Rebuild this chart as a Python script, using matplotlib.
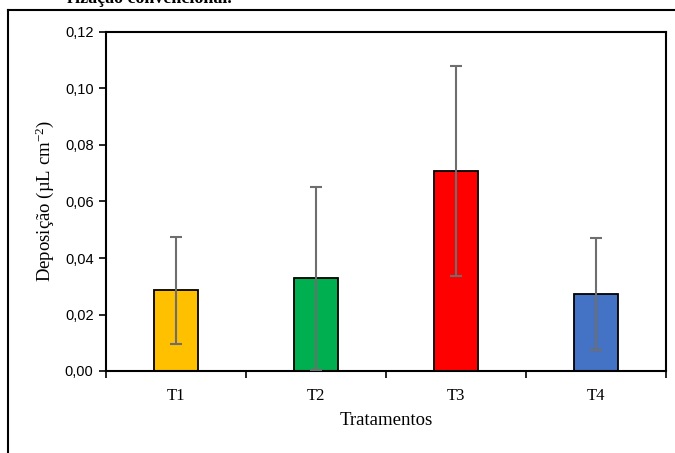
import numpy as np
import matplotlib
matplotlib.use('Agg')
import matplotlib.pyplot as plt
from matplotlib.lines import Line2D

# data
tratamentos = ['T1', 'T2', 'T3', 'T4']
deposicao = [0.0286, 0.0328, 0.0708, 0.0272]
desvio = [0.0189, 0.0325, 0.0370, 0.0198]
cores = ['#FFC000', '#00B050', '#FF0000', '#4472C4']
yticks = [0.00, 0.02, 0.04, 0.06, 0.08, 0.10, 0.12]
ytick_labels = ['0,00', '0,02', '0,04', '0,06', '0,08', '0,10', '0,12']

serif = ['Liberation Serif', 'DejaVu Serif']
sans = ['Liberation Sans Narrow', 'Liberation Sans', 'DejaVu Sans']

plt.rcParams['mathtext.fontset'] = 'custom'
plt.rcParams['mathtext.rm'] = 'Liberation Serif'

fig = plt.figure(figsize=(6.75, 4.53), dpi=100)
ax = fig.add_axes([106 / 675, 1 - 371 / 453, 560 / 675, 339 / 453])

x = np.arange(len(tratamentos))
ax.bar(x, deposicao, width=0.32, color=cores, edgecolor='black', linewidth=1.3, zorder=2)
ax.errorbar(x, deposicao, yerr=desvio, fmt='none', ecolor='#6e6e6e',
            elinewidth=1.5, capsize=4, capthick=1.5, zorder=3)

ax.set_xlim(-0.5, 3.5)
ax.set_ylim(0, 0.12)
ax.set_yticks(yticks)
ax.set_yticklabels(ytick_labels, fontfamily=sans, fontsize=10.5)
ax.set_xticks(x)
ax.set_xticklabels(tratamentos, fontfamily=serif, fontsize=12)
ax.set_xticks(np.arange(-0.5, 4, 1), minor=True)
ax.tick_params(axis='x', which='major', length=0, pad=12)
ax.tick_params(axis='x', which='minor', length=5, width=1.2, direction='out')
ax.tick_params(axis='y', length=5, width=1.2, direction='out', pad=4)
for s in ax.spines.values():
    s.set_linewidth(1.5)
    s.set_color('black')

ax.set_ylabel(r'Deposição (µL cm$\mathregular{^{-2}}$)', fontfamily=serif, fontsize=13.5, labelpad=6)
ax.set_xlabel('Tratamentos', fontfamily=serif, fontsize=13.5, labelpad=6)

# outer frame of the figure box
fig.add_artist(Line2D([8 / 675, 8 / 675], [0, 1 - 10 / 453], transform=fig.transFigure,
                      color='black', linewidth=1.5))
fig.add_artist(Line2D([8 / 675, 1], [1 - 10 / 453, 1 - 10 / 453], transform=fig.transFigure,
                      color='black', linewidth=1.5))
# caption text cut off at the top of the picture
fig.text(232 / 675, 1 - 3 / 453, 'rização convencional.', fontfamily=serif, fontsize=13,
         fontweight='bold', ha='right', va='baseline')

fig.savefig('out.png', dpi=100)
